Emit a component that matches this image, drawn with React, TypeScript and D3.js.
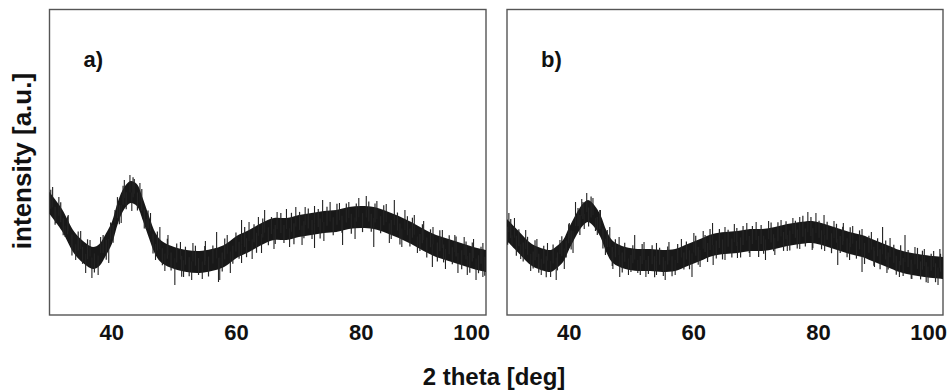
import React from "react";
import * as d3 from "d3";

// ---- data (intensity in arbitrary units) ----
const degA = [30,32,34,36,37,38,39,40,41,42,43,44,45,46,47,48,50,52,54,56,58,60,62,64,66,68,70,72,74,76,78,80,82,84,86,88,90,92,94,96,98,100];
const intA = [112,95,72,60,57,60,70,82,103,117,123,120,105,87,71,63,57,54,53,55,59,68,74,81,86,86,89,91,93,94,97,98,97,93,88,82,75,69,65,61,57,54];

const degB = [30,32,34,36,37,38,39,40,41,42,43,44,45,46,47,49,51,53,55,57,59,61,63,65,67,69,71,73,75,77,79,81,83,85,87,89,91,93,95,97,100];
const intB = [85,72,60,55,54,58,64,77,89,99,104,99,89,73,63,57,55,55,54,55,60,65,70,72,73,75,75,77,80,82,83,80,76,72,69,64,59,54,51,49,47];

// large noise spikes (position, tip intensity)
const spikeDegA = [30.5,31.5,33,35,36.5,38.2,40.5,42,42.9,43.6,44.5,46.2,47.7,49,51,53,55,56.8,58.5,60.8,62,63.5,64.5,66.5,68,69.5,71,72.5,73.8,75,76.5,78,79.6,80.8,82.5,84,85.3,87,88.5,90,91.5,93,95,96.5,98,99.5,
  31,32.5,34.2,35.8,36.8,37.8,39.5,41.5,43.2,45.5,47,48.5,50.1,51.5,52.8,54.5,57.1,57.3,59,60.8,62.5,64,66,68.5,70.5,72.5,74,77,79,82,84.5,86.5,89,91.4,93.5,95.5,97,98.4,99.5];
const spikeTipA = [128,118,100,84,75,78,105,135,140,136,132,102,88,80,73,72,74,83,80,95,93,98,105,103,106,108,108,109,115,113,112,113,117,119,114,111,115,105,100,94,88,85,80,78,76,72,
  92,78,55,42,37,40,52,92,104,86,55,44,30,38,35,36,33,35,42,52,56,62,66,68,70,67,74,70,76,68,72,68,62,48,46,42,40,35,38];

const spikeDegB = [30.3,31.2,33,34.8,36.5,38.5,40,41,42,42.8,43.8,45,46.5,48,50.5,52,54,56,58,60,61.5,63,65,66.5,68.5,70,72,74,75.9,77,78.3,79.6,80.9,82.5,84,85.5,87,88.5,90.3,91.5,93.9,95.5,97,98.5,99.5,
  30.8,32.2,33.8,35.5,37,37.9,39.2,40.6,42.4,44.2,45.8,47,48.1,49.5,51,52.3,54,55.4,57,59.7,61,63.1,65,67,69,71.5,73,75,77,79,81,83.1,85,87,89,91,93,95,97.6,99.2];
const spikeTipB = [102,97,85,76,72,75,92,113,116,122,117,105,88,78,80,73,72,73,76,82,84,92,88,91,92,93,94,95,97,98,103,102,100,94,92,89,86,83,88,77,80,68,66,64,66,
  70,56,44,40,38,35,46,62,86,84,60,46,38,40,42,38,40,35,40,38,48,50,55,57,58,55,60,64,66,65,64,50,55,43,48,42,38,36,32,30];

// small noise spikes (position, deviation from the trace)
const minorDegA = [30.2,30.9,31.8,32.2,32.9,33.6,34.6,35.3,36.1,37.2,38.6,39.1,39.8,40.2,40.9,41.2,41.8,42.3,43.4,44.1,44.8,45.2,45.8,46.6,47.3,48.1,48.9,49.5,50.4,51.2,51.8,52.4,53.4,53.9,54.9,55.5,56.2,57.7,58.1,59.4,59.9,60.4,61.3,61.6,62.8,63.2,64.2,65.1,65.6,66.2,67.1,67.6,68.8,69.2,70.1,70.8,71.5,72.1,73.1,73.4,74.5,75.5,76.1,76.9,77.6,78.4,79.2,80.2,81.2,81.6,82.2,83.1,83.6,84.8,85.8,86.2,87.4,87.8,88.2,89.4,89.8,90.5,91.1,92.2,92.6,93.2,94.1,94.6,95.2,96.1,96.8,97.4,97.8,98.8,99.2,99.8];
const minorDevA = [15,-14,16,-13,14,-17,15,-13,16,-15,14,-16,13,-14,17,-15,15,-13,16,-14,18,-15,14,-16,15,-13,16,-14,15,-17,14,-15,16,-13,15,-16,14,-15,17,-14,15,-13,16,-15,14,-16,15,-14,13,-15,16,-14,15,-17,14,-13,16,-15,14,-16,15,-14,17,-13,15,-16,14,-15,16,-14,15,-13,16,-15,14,-17,15,-14,16,-13,15,-16,14,-15,17,-14,15,-13,16,-15,14,-16,15,-14,13,-15];

const minorDegB = [30.1,30.6,31.5,31.9,32.6,33.3,34.2,34.5,35.1,35.9,36.3,37.4,38.1,38.8,39.5,39.9,40.3,41.4,41.7,42.2,43.1,43.5,44.5,44.9,45.4,46.1,46.9,47.4,48.5,48.9,49.9,50.2,51.4,51.7,52.7,53.3,53.7,54.5,55.1,55.8,56.5,57.4,58.4,58.8,59.3,60.3,60.7,61.8,62.2,62.6,63.6,64.1,64.6,65.5,66.1,66.9,67.5,67.9,68.9,69.4,70.4,70.8,71.2,72.4,72.8,73.5,74.4,74.8,75.4,76.3,76.6,77.5,77.9,78.8,79.1,80.1,80.5,81.4,82.1,82.9,83.5,83.9,84.6,85.1,86.1,86.6,87.4,88.1,88.9,89.5,89.9,90.8,91.2,92.1,92.5,93.2,93.6,94.4,94.9,95.9,96.4,96.7,97.3,98.1,98.8,99.6];
const minorDevB = [-14,15,-16,13,-15,14,-13,16,-15,14,-17,15,-14,16,-13,15,-15,14,-16,13,-15,17,-14,15,-16,13,-15,14,-16,15,-13,14,-15,16,-14,15,-17,13,-15,14,-16,15,-13,14,-15,16,-14,13,-15,17,-14,15,-16,13,-15,14,-16,15,-13,14,-17,15,-14,16,-13,15,-15,14,-16,13,-15,17,-14,15,-16,13,-15,14,-16,15,-13,14,-15,16,-14,15,-17,13,-15,14,-16,15,-13,14,-15,16,-14,13,-15,17,-14,15,-16,13,-15,14];

const xTicks = [40, 60, 80, 100];

const panels = [
  { label: "a)", deg: degA, val: intA, sDeg: spikeDegA, sTip: spikeTipA, mDeg: minorDegA, mDev: minorDevA, x0: 49.5, x1: 486 },
  { label: "b)", deg: degB, val: intB, sDeg: spikeDegB, sTip: spikeTipB, mDeg: minorDegB, mDev: minorDevB, x0: 507, x1: 943 },
];

const TOP = 9.5;
const BOTTOM = 315;
const HALF = 11;
const FONT = "'Liberation Sans', Arial, Helvetica, sans-serif";

function Panel({ p }: { p: typeof panels[number] }) {
  const x = d3.scaleLinear().domain([30, 100]).range([p.x0, p.x1]);
  const y = d3.scaleLinear().domain([0, 305.5]).range([BOTTOM, TOP]);
  const pts = p.deg.map((d, i) => [d, p.val[i]] as [number, number]);
  const center = d3.scaleLinear().domain(p.deg).range(p.val);
  const area = d3
    .area<[number, number]>()
    .x((d) => x(d[0]))
    .y0((d) => y(d[1] - HALF))
    .y1((d) => y(d[1] + HALF))
    .curve(d3.curveCatmullRom);
  const nMinor = Math.min(p.mDeg.length, p.mDev.length);
  const minor = p.mDeg.slice(0, nMinor).map((d, i) => [d, p.mDev[i]] as [number, number]);
  return (
    <g>
      <rect x={p.x0} y={TOP} width={p.x1 - p.x0} height={BOTTOM - TOP} fill="none" stroke="#555" strokeWidth={1.4} />
      <path d={area(pts) || ""} fill="#181818" />
      {minor.map((m, i) => (
        <line key={"m" + i} x1={x(m[0])} x2={x(m[0])} y1={y(center(m[0]) - Math.sign(m[1]) * 4)} y2={y(center(m[0]) + m[1])} stroke="#262626" strokeWidth={1.2} />
      ))}
      {p.sDeg.map((d, i) => (
        <line key={i} x1={x(d)} x2={x(d)} y1={y(center(d))} y2={y(p.sTip[i])} stroke="#222" strokeWidth={1.1} />
      ))}
      <text x={p.x0 + 34} y={67} fontFamily={FONT} fontWeight="bold" fontSize={22} fill="#111">{p.label}</text>
      {xTicks.map((t) => (
        <text key={t} x={t === 100 ? x(t) + 4 : x(t)} y={340} textAnchor={t === 100 ? "end" : "middle"} fontFamily={FONT} fontWeight="bold" fontSize={22} fill="#111">{t}</text>
      ))}
    </g>
  );
}

export default function App() {
  return (
    <svg width={952} height={392} style={{ position: "absolute", left: 0, top: 0, background: "#fff" }}>
      <rect width={952} height={392} fill="#fff" />
      {panels.map((p) => (
        <Panel key={p.label} p={p} />
      ))}
      <text transform="translate(31,161) rotate(-90)" textAnchor="middle" fontFamily={FONT} fontWeight="bold" fontSize={26} fill="#111">intensity [a.u.]</text>
      <text x={494} y={385} textAnchor="middle" fontFamily={FONT} fontWeight="bold" fontSize={24} fill="#111">2 theta [deg]</text>
    </svg>
  );
}
